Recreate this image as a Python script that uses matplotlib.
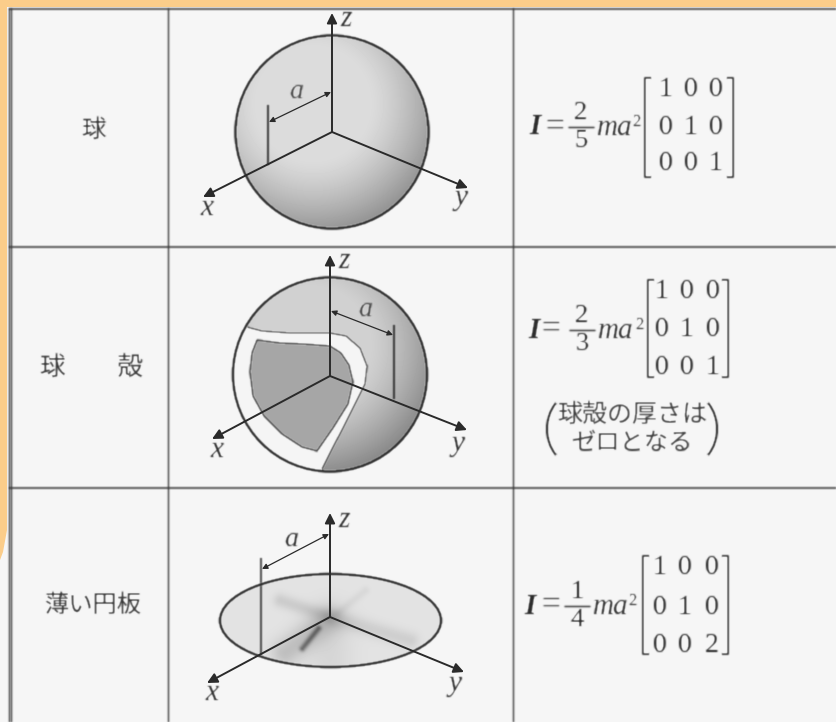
import numpy as np
import matplotlib
matplotlib.use("Agg")
import matplotlib.pyplot as plt
from matplotlib.patches import Circle, Ellipse, Polygon, PathPatch, Rectangle
from matplotlib.path import Path

# ---- content ----
row_labels = ["球", "球　　殻", "薄い円板"]
fractions = [("2", "5"), ("2", "3"), ("1", "4")]
matrices = [[[1, 0, 0], [0, 1, 0], [0, 0, 1]],
            [[1, 0, 0], [0, 1, 0], [0, 0, 1]],
            [[1, 0, 0], [0, 1, 0], [0, 0, 2]]]
note_lines = ["球殻の厚さは", "ゼロとなる"]
radius_labels = ["a", "a", "a"]

W, H = 837, 722
BG = "#f6f6f6"
INK = "#2a2a2a"
ORANGE = "#fbcd8a"
SERIF = "Liberation Serif"
CJK = "Noto Sans CJK JP"


def soft(sigma):
    r = int(3 * sigma) + 1
    k = np.exp(-0.5 * (np.arange(-r, r + 1) / sigma) ** 2)
    k /= k.sum()

    def f(im, dpi):
        p = np.pad(im, ((r, r), (r, r), (0, 0)))
        for c in range(4):
            p[..., c] = np.apply_along_axis(lambda m: np.convolve(m, k, "same"), 0, p[..., c])
            p[..., c] = np.apply_along_axis(lambda m: np.convolve(m, k, "same"), 1, p[..., c])
        return p, -r, -r
    return f


BLUR = soft(0.7)
fig = plt.figure(figsize=(W / 100, H / 100), dpi=100, facecolor=BG)
ax = fig.add_axes([0, 0, 1, 1])
ax.set_xlim(0, W)
ax.set_ylim(H, 0)
ax.axis("off")

# orange scan border
ax.add_patch(Rectangle((0, 0), W, 7, fc=ORANGE, ec="none", zorder=1))
ax.add_patch(Polygon([(0, 0), (7, 0), (7, 530), (3, 552), (0, 560)], fc=ORANGE, ec="none", zorder=1))


def line(xs, ys, lw=1.4, color=INK, z=5):
    l, = ax.plot(xs, ys, color=color, lw=lw, solid_capstyle="butt", zorder=z)
    l.set_agg_filter(BLUR)
    return l


# table grid
for x in (9, 11.5, 168, 513):
    line([x, x], [8, 722], lw=1.0, color="#444444", z=2)
for y in (9, 247, 488):
    line([9, 837], [y, y], lw=1.1, color="#444444", z=2)


def shade(cx, cy, r, fn, clip, z=3):
    x0, x1, y0, y1 = int(cx - r - 3), int(cx + r + 3), int(cy - r - 3), int(cy + r + 3)
    yy, xx = np.mgrid[y0:y1, x0:x1]
    g = fn((xx - cx) / r, (yy - cy) / r)
    im = ax.imshow(g, cmap="gray", vmin=0, vmax=1, extent=(x0, x1, y1, y0),
                   aspect="auto", zorder=z, interpolation="bilinear")
    im.set_clip_path(clip)
    ax.set_xlim(0, W)
    ax.set_ylim(H, 0)


def ball(u, v):
    d = np.hypot(u + 0.2, v + 0.3)
    return np.clip(0.86 - 0.42 * np.clip(d - 0.6, 0, None) ** 1.3, 0.45, 1)


def arrow(p, q, style="-|>", lw=1.4, ms=15, color=INK, z=7):
    a = ax.annotate("", xy=q, xytext=p, zorder=z,
                    arrowprops=dict(arrowstyle=style, color=color, lw=lw, mutation_scale=ms,
                                    shrinkA=0, shrinkB=0))
    a.arrow_patch.set_agg_filter(BLUR)


def label(x, y, s, size=21, color=INK):
    t = ax.text(x, y, s, family=SERIF, style="italic", fontsize=size, color=color,
                ha="center", va="center", zorder=8)
    t.set_agg_filter(BLUR)


def axes3(o, xt, yt, zt, xl, yl, zl):
    arrow(o, xt)
    arrow(o, yt)
    arrow(o, zt)
    label(*xl, "x")
    label(*yl, "y")
    label(*zl, "z")


# ---- row 1: solid sphere ----
c1 = Circle((332, 132), 96.5, fc="none", ec=INK, lw=1.8, zorder=6)
ax.add_patch(c1)
c1.set_agg_filter(BLUR)
clip = Circle((332, 132), 96.5, transform=ax.transData)
shade(332, 132, 96.5, ball, clip)
line([268, 268], [105, 165], lw=1.2)
arrow((269, 122), (331, 92), style="<|-|>", lw=0.9, ms=8)
axes3((332, 132), (203, 197), (468, 188), (332, 13), (207, 208), (461, 198), (346, 19))
label(296, 92, radius_labels[0], size=20, color="#444444")

# ---- row 2: spherical shell ----
cx, cy, r = 330, 374.5, 97
clip = Circle((cx, cy), r, transform=ax.transData)
shade(cx, cy, r, lambda u, v: np.clip(ball(u, v) - 0.04, 0.4, 1), clip)
a0, a1 = np.arctan2(327 - cy, 247 - cx), np.arctan2(469 - cy, 322 - cx)
arc = np.linspace(a1, a0 + 2 * np.pi, 60)
limb = [(cx + r * np.cos(t), cy + r * np.sin(t)) for t in arc]
outer = [(247, 327), (262, 331), (290, 333), (330, 333), (346, 336), (360, 348), (367, 366),
         (365, 384), (356, 402), (343, 428), (332, 449), (322, 469)]
cut = Polygon(outer + limb, fc="#f5f5f5", ec="none", zorder=4)
ax.add_patch(cut)
line(*zip(*outer), lw=1.0, color="#444444", z=5)
P = [(257, 340), (280, 343), (303, 344), (330, 346), (341, 353), (349, 365), (353, 382),
     (348, 404), (333, 428), (317, 451), (302, 447), (282, 434), (264, 416), (253, 396),
     (250, 372), (252, 353), (257, 340)]
inner = Polygon(P, fc="#a6a6a6", ec="none", zorder=4)
ax.add_patch(inner)
line(*zip(*P), lw=1.1, color="#444444", z=5)
c2 = Circle((cx, cy), r, fc="none", ec=INK, lw=1.8, zorder=6)
ax.add_patch(c2)
c2.set_agg_filter(BLUR)
line([394, 394], [325, 399], lw=1.2)
arrow((331, 311), (393, 335), style="<|-|>", lw=0.9, ms=8)
axes3((330, 376), (212, 439), (467, 430), (330, 255), (217, 450), (458, 444), (344, 261))
label(365, 309, radius_labels[1], size=20, color="#444444")

# ---- row 3: thin disc ----
dx, dy, dw, dh = 330.5, 620.5, 221, 93
streaks = [((302, 648), (318, 628), 0.32, 2.2), ((285, 652), (328, 620), 0.14, 10.0),
           ((325, 615), (280, 600), 0.09, 5.0), ((335, 618), (410, 640), 0.08, 6.0),
           ((338, 612), (365, 590), 0.04, 3.0), ((330, 625), (330, 660), 0.05, 16.0)]


def disc(u, v):
    px, py = dx + u * 111, dy + v * 111
    g = np.full_like(px, 0.89, dtype=float)
    for (x0, y0), (x1, y1), s, w in streaks:
        ex, ey = x1 - x0, y1 - y0
        t = np.clip(((px - x0) * ex + (py - y0) * ey) / (ex * ex + ey * ey), 0, 1)
        d = np.hypot(px - x0 - t * ex, py - y0 - t * ey)
        g -= s * np.exp(-0.5 * (d / w) ** 2)
    return np.clip(g, 0.3, 1)


clip = Ellipse((dx, dy), dw, dh, transform=ax.transData)
shade(dx, dy, 111, disc, clip)
e = Ellipse((dx, dy), dw, dh, fc="none", ec=INK, lw=1.8, zorder=6)
ax.add_patch(e)
e.set_agg_filter(BLUR)
line([261, 261], [558, 655], lw=1.1)
arrow((262, 569), (329, 534), style="<|-|>", lw=0.9, ms=8)
axes3((330, 617), (207, 683), (464, 672), (330, 513), (212, 693), (455, 684), (344, 520))
label(291, 539, radius_labels[2], size=20)

# ---- left column ----
for (x, y, s, fs) in [(93, 130, row_labels[0], 17.5), (92, 368, row_labels[1], 18.5), (93, 605, row_labels[2], 17.5)]:
    t = ax.text(x, y, s, family=[CJK, "DejaVu Sans"], fontsize=fs, color="#333333",
                ha="center", va="center", zorder=8)
    t.set_agg_filter(BLUR)

# ---- formulas ----
layout = [dict(ix=535, iy=127, eq=555, fx=581, ma=597, sq=636, cols=(666, 691, 716), rows=(90, 127, 164),
               lb=645, rb=733, top=78, bot=177),
          dict(ix=534, iy=330, eq=551, fx=582, ma=598, sq=639, cols=(662, 687, 713), rows=(292, 330, 368),
               lb=648, rb=728, top=280, bot=377),
          dict(ix=530, iy=606, eq=551, fx=577, ma=593, sq=632, cols=(660, 685, 712), rows=(568, 607, 645),
               lb=643, rb=728, top=556, bot=654)]


def serif(x, y, s, size=19, color=INK, **kw):
    t = ax.text(x, y, s, family=SERIF, fontsize=size, color=color, ha="center", va="center", zorder=8, **kw)
    t.set_agg_filter(BLUR)


for L, (num, den), M in zip(layout, fractions, matrices):
    y = L["iy"]
    serif(L["ix"], y, "I", size=21, style="italic", weight="bold")
    serif(L["eq"], y, "=", size=24, color="#444444")
    serif(L["fx"], y - 14, num)
    serif(L["fx"], y + 14, den)
    line([L["fx"] - 13, L["fx"] + 13], [y, y], lw=1.0)
    t = ax.text(L["ma"], y + 1, "ma", family=SERIF, style="italic", fontsize=21, color="#333333",
                ha="left", va="center", zorder=8)
    t.set_agg_filter(BLUR)
    serif(L["sq"], y - 5, "2", size=12)
    for i, row in enumerate(M):
        for j, val in enumerate(row):
            serif(L["cols"][j], L["rows"][i], str(val), size=20)
    line([L["lb"] + 6, L["lb"], L["lb"], L["lb"] + 6], [L["top"], L["top"], L["bot"], L["bot"]], lw=1.2)
    line([L["rb"] - 6, L["rb"], L["rb"], L["rb"] - 6], [L["top"], L["top"], L["bot"], L["bot"]], lw=1.2)

# ---- note ----
for y, s, fs in zip((415, 443), note_lines, (18, 17.5)):
    t = ax.text(632, y, s, family=[CJK, "DejaVu Sans"], fontsize=fs, color="#3a3a3a",
                ha="center", va="center", zorder=8)
    t.set_agg_filter(BLUR)
for xe, xm in ((556, 544), (708, 720)):
    pth = Path([(xe, 403), (xm, 417), (xm, 441), (xe, 455)], [Path.MOVETO, Path.CURVE4, Path.CURVE4, Path.CURVE4])
    pp = PathPatch(pth, fc="none", ec=INK, lw=1.5, zorder=8)
    ax.add_patch(pp)
    pp.set_agg_filter(BLUR)

fig.savefig("out.png", dpi=100, facecolor=BG)
